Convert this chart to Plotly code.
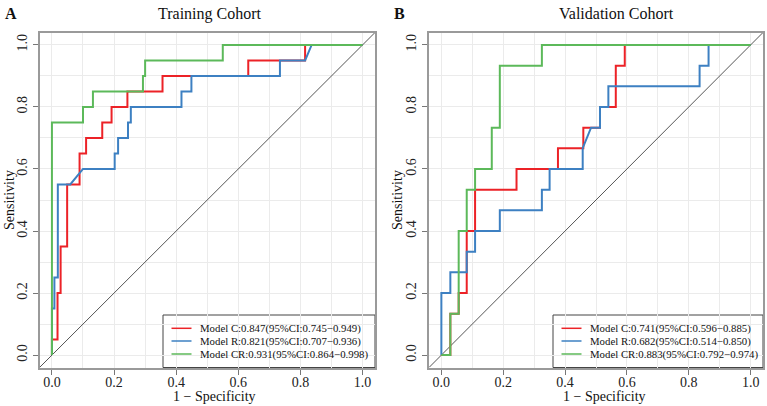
import plotly.graph_objects as go

W, H = 767, 406

# ---------------- data ----------------
models = ["Model C", "Model R", "Model CR"]
colors = ["#EC2227", "#3D80C2", "#5CB95A"]

# Training cohort ROC (x = 1 - specificity, y = sensitivity)
train_C_x = [0, 0, 0.018, 0.018, 0.028, 0.028, 0.049, 0.049, 0.089, 0.089, 0.11, 0.11, 0.162, 0.162,
             0.192, 0.192, 0.243, 0.243, 0.356, 0.356, 0.632, 0.632, 0.815, 0.815, 1.0]
train_C_y = [0, 0.05, 0.05, 0.20, 0.20, 0.35, 0.35, 0.55, 0.55, 0.65, 0.65, 0.70, 0.70, 0.75,
             0.75, 0.80, 0.80, 0.85, 0.85, 0.90, 0.90, 0.95, 0.95, 1.0, 1.0]
train_R_x = [0, 0, 0.008, 0.008, 0.019, 0.019, 0.059, 0.10, 0.202, 0.202, 0.213, 0.213, 0.245, 0.245,
             0.254, 0.254, 0.417, 0.417, 0.449, 0.449, 0.734, 0.734, 0.815, 0.836, 1.0]
train_R_y = [0, 0.15, 0.15, 0.25, 0.25, 0.55, 0.55, 0.60, 0.60, 0.65, 0.65, 0.70, 0.70, 0.75,
             0.75, 0.80, 0.80, 0.85, 0.85, 0.90, 0.90, 0.95, 0.95, 1.0, 1.0]
train_CR_x = [0, 0, 0.10, 0.10, 0.132, 0.132, 0.293, 0.293, 0.30, 0.30, 0.55, 0.55, 1.0]
train_CR_y = [0, 0.75, 0.75, 0.80, 0.80, 0.85, 0.85, 0.90, 0.90, 0.95, 0.95, 1.0, 1.0]

# Validation cohort ROC
valid_C_x = [0, 0.029, 0.029, 0.056, 0.056, 0.082, 0.082, 0.109, 0.109, 0.243, 0.243, 0.377, 0.377,
             0.459, 0.459, 0.513, 0.513, 0.564, 0.564, 0.593, 0.593, 1.0]
valid_C_y = [0, 0, 0.133, 0.133, 0.200, 0.200, 0.400, 0.400, 0.533, 0.533, 0.600, 0.600, 0.667,
             0.667, 0.733, 0.733, 0.800, 0.800, 0.933, 0.933, 1.0, 1.0]
valid_R_x = [0, 0, 0.029, 0.029, 0.082, 0.082, 0.109, 0.109, 0.189, 0.189, 0.325, 0.325, 0.35, 0.35,
             0.457, 0.457, 0.484, 0.513, 0.513, 0.54, 0.54, 0.835, 0.835, 0.864, 0.864, 1.0]
valid_R_y = [0, 0.200, 0.200, 0.267, 0.267, 0.333, 0.333, 0.400, 0.400, 0.467, 0.467, 0.533, 0.533, 0.600,
             0.600, 0.667, 0.733, 0.733, 0.800, 0.800, 0.867, 0.867, 0.933, 0.933, 1.0, 1.0]
valid_CR_x = [0, 0.029, 0.029, 0.056, 0.056, 0.082, 0.082, 0.109, 0.109, 0.163, 0.163, 0.189, 0.189,
              0.325, 0.325, 1.0]
valid_CR_y = [0, 0, 0.133, 0.133, 0.400, 0.400, 0.533, 0.533, 0.600, 0.600, 0.733, 0.733, 0.933,
              0.933, 1.0, 1.0]

train_auc = ["0.847", "0.821", "0.931"]
train_ci_lo = ["0.745", "0.707", "0.864"]
train_ci_hi = ["0.949", "0.936", "0.998"]
valid_auc = ["0.741", "0.682", "0.883"]
valid_ci_lo = ["0.596", "0.514", "0.792"]
valid_ci_hi = ["0.885", "0.850", "0.974"]

panel_titles = ["Training Cohort", "Validation Cohort"]
panel_letters = ["A", "B"]
tick_vals = [0.0, 0.2, 0.4, 0.6, 0.8, 1.0]
tick_text = ["0.0", "0.2", "0.4", "0.6", "0.8", "1.0"]
x_title = "1 \u2212 Specificity"
y_title = "Sensitivity"

# ---------------- layout helpers ----------------
FONT = "Liberation Serif"
def px(x):
    return x / W
def py(y):
    return 1 - y / H

panels = [
    dict(x0=39.5, x1=375, xax="x", yax="y",
         curves=[(train_C_x, train_C_y), (train_R_x, train_R_y), (train_CR_x, train_CR_y)],
         auc=train_auc, lo=train_ci_lo, hi=train_ci_hi,
         title_x=210, letter_x=11, ylab_x=9, xlab_x=214, leg_x0=163),
    dict(x0=429, x1=763, xax="x2", yax="y2",
         curves=[(valid_C_x, valid_C_y), (valid_R_x, valid_R_y), (valid_CR_x, valid_CR_y)],
         auc=valid_auc, lo=valid_ci_lo, hi=valid_ci_hi,
         title_x=616, letter_x=399, ylab_x=397, xlab_x=604, leg_x0=553),
]
TOP, BOT = 32.5, 367.5
RNG = [-0.04, 1.04]

fig = go.Figure()
shapes = []
annotations = []

for i, p in enumerate(panels):
    # diagonal reference
    fig.add_trace(go.Scatter(x=RNG, y=RNG, mode="lines", xaxis=p["xax"], yaxis=p["yax"],
                             line=dict(color="#555555", width=1), showlegend=False, hoverinfo="skip"))
    for (cx, cy), col in zip(p["curves"], colors):
        fig.add_trace(go.Scatter(x=cx, y=cy, mode="lines", xaxis=p["xax"], yaxis=p["yax"],
                                 line=dict(color=col, width=2), showlegend=False))

    # title and letter
    annotations.append(dict(text=panel_titles[i], x=px(p["title_x"]), y=py(14), xref="paper", yref="paper",
                            showarrow=False, xanchor="center", yanchor="middle",
                            font=dict(family=FONT, size=16, color="#111")))
    annotations.append(dict(text="<b>" + panel_letters[i] + "</b>", x=px(p["letter_x"]), y=py(14),
                            xref="paper", yref="paper", showarrow=False, xanchor="center", yanchor="middle",
                            font=dict(family=FONT, size=16, color="#111")))
    # axis titles
    annotations.append(dict(text=y_title, x=px(p["ylab_x"]), y=py((TOP + BOT) / 2), xref="paper", yref="paper",
                            showarrow=False, textangle=-90, xanchor="center", yanchor="middle",
                            font=dict(family=FONT, size=14, color="#111")))
    annotations.append(dict(text=x_title, x=px(p["xlab_x"]), y=py(396), xref="paper", yref="paper",
                            showarrow=False, xanchor="center", yanchor="middle",
                            font=dict(family=FONT, size=14, color="#111")))

    # legend box
    lx0 = p["leg_x0"]
    shapes.append(dict(type="rect", xref="paper", yref="paper", layer="between",
                       x0=px(lx0), x1=px(p["x1"]), y0=py(BOT), y1=py(315),
                       line=dict(color="#444444", width=1), fillcolor="white"))
    rows = [328.3, 341, 354]
    for k in range(3):
        shapes.append(dict(type="line", xref="paper", yref="paper", layer="above",
                           x0=px(lx0 + 8.5), x1=px(lx0 + 28.5), y0=py(rows[k]), y1=py(rows[k]),
                           line=dict(color=colors[k], width=1.5)))
        txt = f"{models[k]}:{p['auc'][k]}(95%CI:{p['lo'][k]}\u2212{p['hi'][k]})"
        annotations.append(dict(text=txt, x=px(lx0 + 35), y=py(rows[k]), xref="paper", yref="paper",
                                showarrow=False, xanchor="left", yanchor="middle",
                                font=dict(family=FONT, size=10.8, color="#111")))

axis_common = dict(range=RNG, tickvals=tick_vals, ticktext=tick_text, ticks="outside", ticklen=5,
                   tickcolor="#777777", tickwidth=1,
                   tickfont=dict(family=FONT, size=14, color="#222"),
                   showgrid=True, gridcolor="#EBEBEB", gridwidth=1,
                   minor=dict(dtick=0.1, tick0=0, showgrid=True, gridcolor="#EBEBEB", gridwidth=1),
                   showline=True, linecolor="#9A9A9A", linewidth=2, mirror=True,
                   zeroline=False, fixedrange=True)

ydom = [py(BOT), py(TOP)]
fig.update_layout(
    width=W, height=H, margin=dict(l=0, r=0, t=0, b=0),
    paper_bgcolor="white", plot_bgcolor="white", showlegend=False,
    xaxis=dict(domain=[px(panels[0]["x0"]), px(panels[0]["x1"])], anchor="y", ticklabelstandoff=-4, **axis_common),
    yaxis=dict(domain=ydom, anchor="x", tickangle=-90, **axis_common),
    xaxis2=dict(domain=[px(panels[1]["x0"]), px(panels[1]["x1"])], anchor="y2", ticklabelstandoff=-4, **axis_common),
    yaxis2=dict(domain=ydom, anchor="x2", tickangle=-90, **axis_common),
    shapes=shapes, annotations=annotations,
)

fig.write_html("out.html")
